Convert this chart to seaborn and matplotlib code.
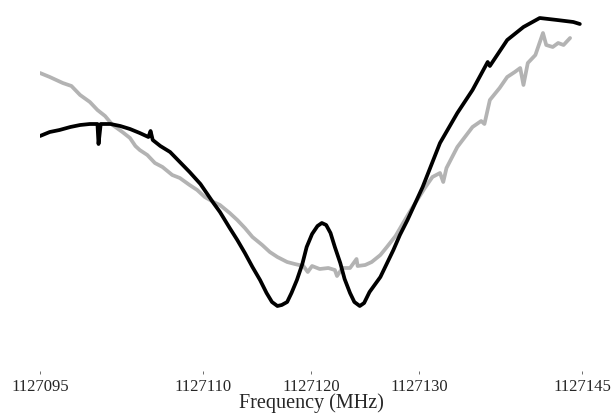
import numpy as np
import pandas as pd
import matplotlib
matplotlib.use("Agg")
import matplotlib.pyplot as plt
import seaborn as sns

# black trace (frequency in MHz, relative power in dB)
black_freq = [1127095.0, 1127095.9, 1127096.8, 1127097.8, 1127098.7, 1127099.6, 1127100.3, 1127100.4,
              1127100.6, 1127101.5, 1127102.4, 1127103.3, 1127104.2, 1127105.0, 1127105.2, 1127105.4,
              1127106.1, 1127107.0, 1127107.9, 1127108.8, 1127109.8, 1127111.0, 1127111.6, 1127112.5,
              1127113.2, 1127113.9, 1127114.6, 1127115.3, 1127115.9, 1127116.4, 1127116.9, 1127117.3,
              1127117.8, 1127118.2, 1127118.7, 1127119.2, 1127119.6, 1127120.1, 1127120.6, 1127121.0,
              1127121.4, 1127121.8, 1127122.2, 1127122.7, 1127123.1, 1127123.6, 1127124.0, 1127124.5,
              1127124.9, 1127125.4, 1127126.4, 1127127.6, 1127128.2, 1127128.9, 1127130.3, 1127131.9,
              1127133.5, 1127134.9, 1127136.3, 1127136.5, 1127138.1, 1127139.6, 1127141.1, 1127142.7,
              1127144.2, 1127144.8]
black_pow = [18.4, 18.8, 19.0, 19.3, 19.5, 19.6, 19.6, 17.6,
             19.6, 19.6, 19.4, 19.1, 18.7, 18.3, 18.9, 18.0,
             17.4, 16.8, 15.8, 14.8, 13.6, 11.7, 10.8, 9.2,
             8.0, 6.7, 5.3, 4.0, 2.7, 1.8, 1.4, 1.5,
             1.8, 2.7, 4.0, 5.6, 7.3, 8.6, 9.4, 9.7,
             9.5, 8.7, 7.3, 5.7, 4.1, 2.7, 1.8, 1.4,
             1.7, 2.8, 4.3, 7.0, 8.5, 10.0, 13.3, 17.7,
             20.7, 23.0, 25.8, 25.4, 28.0, 29.3, 30.2, 30.0,
             29.8, 29.6]

# gray trace
gray_freq = [1127095.0, 1127095.9, 1127097.1, 1127097.9, 1127098.7, 1127099.6, 1127100.3, 1127101.0,
             1127101.7, 1127102.6, 1127103.3, 1127103.8, 1127104.2, 1127104.9, 1127105.6, 1127106.3,
             1127107.2, 1127107.9, 1127108.8, 1127109.5, 1127110.2, 1127111.0, 1127111.6, 1127112.5,
             1127113.2, 1127113.9, 1127114.6, 1127115.5, 1127116.2, 1127116.9, 1127117.8, 1127118.5,
             1127119.3, 1127119.7, 1127120.1, 1127120.8, 1127121.6, 1127122.2, 1127122.4, 1127122.9,
             1127123.6, 1127124.2, 1127124.3, 1127125.0, 1127125.6, 1127126.4, 1127127.0, 1127127.8,
             1127128.5, 1127129.1, 1127129.8, 1127130.5, 1127131.2, 1127131.9, 1127132.2, 1127132.5,
             1127133.5, 1127134.2, 1127134.9, 1127135.7, 1127136.0, 1127136.5, 1127137.4, 1127138.1,
             1127138.8, 1127139.3, 1127139.6, 1127140.0, 1127140.7, 1127141.4, 1127141.7, 1127142.3,
             1127142.8, 1127143.3, 1127143.9]
gray_pow = [24.7, 24.3, 23.7, 23.4, 22.5, 21.8, 21.0, 20.4,
            19.5, 18.8, 18.2, 17.4, 17.0, 16.5, 15.7, 15.3,
            14.5, 14.2, 13.5, 13.0, 12.3, 11.8, 11.5, 10.7,
            10.0, 9.2, 8.3, 7.5, 6.8, 6.3, 5.8, 5.6,
            5.4, 4.8, 5.4, 5.1, 5.2, 5.0, 4.4, 5.2,
            5.2, 6.1, 5.4, 5.5, 5.8, 6.5, 7.3, 8.4,
            9.7, 10.8, 12.0, 13.2, 14.3, 14.7, 13.8, 15.2,
            17.3, 18.3, 19.3, 19.9, 19.6, 22.0, 23.2, 24.3,
            24.8, 25.2, 23.5, 25.7, 26.5, 28.7, 27.5, 27.3,
            27.7, 27.5, 28.2]

tick_freqs = [1127095, 1127110, 1127120, 1127130, 1127145]

sns.set_style("white")
plt.rcParams["font.family"] = ["Liberation Serif", "DejaVu Serif"]

fig = plt.figure(figsize=(6.13, 4.18), dpi=100)
ax = fig.add_axes([40 / 613, 1 - 371 / 418, 542 / 613, 371 / 418])

sns.lineplot(x=gray_freq, y=gray_pow, ax=ax, color="#b3b3b3", linewidth=2.7, sort=False)
sns.lineplot(x=black_freq, y=black_pow, ax=ax, color="black", linewidth=2.7, sort=False)

ax.set_xlim(1127095, 1127145)
ax.set_ylim(-5.1, 32.0)
ax.set_xticks(tick_freqs)
ax.set_xticklabels([str(t) for t in tick_freqs], fontsize=12)
ax.set_yticks([])
ax.tick_params(axis="x", direction="out", length=2.5, width=0.6, color="#555555", pad=3, bottom=True)
ax.set_xlabel("Frequency (MHz)", fontsize=14.5, labelpad=-1)
ax.set_ylabel("")
for s in ax.spines.values():
    s.set_visible(False)

fig.savefig("out.png", dpi=100)
